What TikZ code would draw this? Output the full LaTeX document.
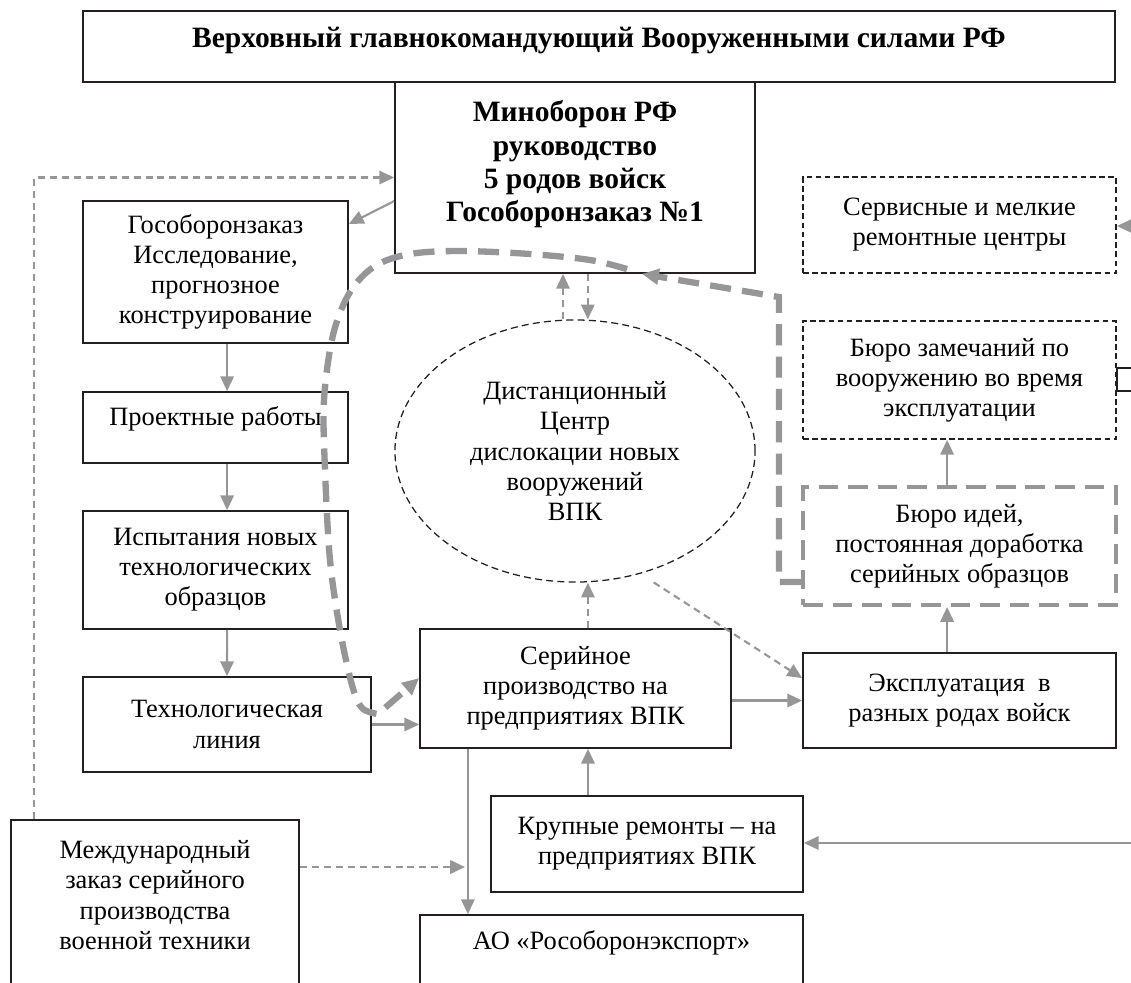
\documentclass[tikz,border=0pt]{standalone}
\usepackage{fontspec}
\setmainfont{Liberation Serif}
\usetikzlibrary{arrows.meta,shapes.geometric}
\definecolor{arrgray}{RGB}{150,150,152}
\definecolor{boxblack}{RGB}{35,31,32}

\begin{document}
\begin{tikzpicture}[x=0.025cm,y=-0.025cm,
  box/.style={draw=boxblack,line width=1.2pt,align=center,inner sep=2pt,font=\fontsize{18.8}{21.4}\selectfont},
  bigbox/.style={box,font=\fontsize{21}{23.5}\selectfont\bfseries},
  dbox/.style={box,line width=1.2pt,dash pattern=on 4pt off 2.5pt},
  gbox/.style={box,draw=arrgray,line width=2.8pt,dash pattern=on 14pt off 7pt},
  arr/.style={draw=arrgray,line width=1.5pt,-{Triangle[length=10.5pt,width=9.5pt]}},
  darr/.style={arr,dash pattern=on 5pt off 3.5pt},
  bigdash/.style={draw=arrgray,line width=4.5pt,dash pattern=on 15pt off 8pt,-{Triangle[length=12pt,width=11pt]}}]
% --- page frame
\clip (0,0) rectangle (1131,982);

% ---- top boxes
\node[bigbox,minimum width=25.8cm,minimum height=1.775cm,text height=14pt,text depth=13pt] (vgk) at (599,46.5)
  {Верховный главнокомандующий Вооруженными силами РФ};
\node[bigbox,minimum width=9cm,minimum height=4.775cm] (mino) at (575,177.5)
  {Миноборон РФ\\руководство\\5 родов войск\\Гособоронзаказ №1\\ \mbox{}};

% ---- left column
\node[box,minimum width=6.625cm,minimum height=3.55cm] (gos) at (215.5,272)
  {Гособоронзаказ\\Исследование,\\прогнозное\\конструирование};
\node[box,minimum width=6.625cm,minimum height=1.775cm,text height=12pt,text depth=15pt] (proj) at (215.5,427.5)
  {Проектные работы};
\node[box,minimum width=6.625cm,minimum height=2.95cm] (isp) at (215.5,570)
  {Испытания новых\\технологических\\образцов};
\node[box,minimum width=7.2cm,minimum height=2.375cm] (tech) at (227,724.5)
  {Технологическая\\линия};

% ---- middle
\node[ellipse,draw=boxblack,line width=0.9pt,dash pattern=on 5pt off 3pt,align=center,
  minimum width=9cm,minimum height=6.55cm,font=\fontsize{18.8}{21.4}\selectfont] (dvc) at (575,451)
  {Дистанционный\\Центр\\дислокации новых\\вооружений\\ВПК};
\node[box,minimum width=7.775cm,minimum height=2.975cm] (ser) at (575.5,688.5)
  {Серийное\\производство на\\предприятиях ВПК};
\node[box,minimum width=7.8cm,minimum height=2.4cm] (krup) at (647,844)
  {Крупные ремонты – на\\предприятиях ВПК};
\node[box,minimum width=9.575cm,minimum height=2.125cm,text height=12pt,text depth=22.7pt] (ao) at (611.5,957.5)
  {АО «Рособоронэкспорт»};
\node[box,minimum width=7.2cm,minimum height=4.5cm] (mezh) at (155,910)
  {Международный\\заказ серийного\\производства\\военной техники\\ \mbox{}};

% ---- right column
\node[dbox,minimum width=7.825cm,minimum height=2.4cm] (serv) at (959.5,225)
  {Сервисные и мелкие\\ремонтные центры};
\node[dbox,minimum width=7.825cm,minimum height=2.95cm] (zam) at (959.5,380)
  {Бюро замечаний по\\вооружению во время\\эксплуатации};
\node[gbox,minimum width=7.825cm,minimum height=2.95cm] (idei) at (959.5,546)
  {Бюро идей,\\постоянная доработка\\серийных образцов};
\node[box,minimum width=7.825cm,minimum height=2.375cm] (expl) at (959.5,700.5)
  {Эксплуатация \ в\\разных родах войск};
% ---- box cut by the page edge
\draw[boxblack,line width=1.2pt] (1117,368) rectangle (1170,391);

% ---- free ends
\coordinate (rserv) at (1140,226);
\coordinate (rkrup) at (1140,843);
\coordinate (aojoin) at (465,867);

% ---- solid arrows
\draw[arr] ([yshift=-0.59cm]mino.west) -- ([yshift=1.2cm]gos.east);
\draw[arr] ([xshift=0.29cm]gos.south) -- ([xshift=0.29cm]proj.north);
\draw[arr] ([xshift=0.29cm]proj.south) -- ([xshift=0.29cm]isp.north);
\draw[arr] ([xshift=0.29cm]isp.south) -- (tech.north);
\draw[arr] (tech.east) -- (tech.east -| ser.west);
\draw[arr] (ser.east |- expl.west) -- (expl.west);
\draw[arr] ([xshift=-0.31cm]expl.north) -- ([xshift=-0.31cm]idei.south);
\draw[arr] ([xshift=-0.31cm]idei.north) -- ([xshift=-0.31cm]zam.south);
\draw[arr] ([xshift=-1.475cm]krup.north) -- ([xshift=-1.475cm]krup.north |- ser.south);
\draw[arr] ([xshift=-2.69cm]ser.south) -- ([xshift=-2.69cm]ser.south |- ao.north);
\draw[arr] (rserv) -- (serv.east |- rserv);
\draw[arr] (rkrup) -- (krup.east |- rkrup);

% ---- dashed arrows
\draw[darr] ([xshift=0.6cm]mezh.north west) |- (mino.west);
\draw[darr] (mezh.east |- aojoin) -- (aojoin);
\draw[darr] ([xshift=-0.3cm]dvc.north) -- ([xshift=-0.3cm]dvc.north |- mino.south);
\draw[darr] ([xshift=0.32cm]dvc.north |- mino.south) -- ([xshift=0.32cm]dvc.north);
\draw[darr] ([xshift=0.31cm]ser.north) -- ([xshift=0.31cm]ser.north |- dvc.south);
\draw[darr,shorten <=0.4cm] (dvc.-62) -- ([yshift=0.56cm]expl.west);

% ---- thick dashed loop
\draw[bigdash] ([yshift=-0.9cm]idei.west) -- ++(-22,0) -- ++(0,-285) -- ([xshift=1.675cm]mino.south);
\draw[bigdash] plot[smooth,tension=0.55] coordinates {([xshift=1.3cm,yshift=0.12cm]mino.south)
  (590,260) (530,254) (460,251) (410,254) (375,266) (350,292) (333,335) (324,400) (325,470)
  (330,560) (340,630) (352,685) (362,708) (378,714)} -- ([yshift=0.26cm]ser.west);
\end{tikzpicture}
\end{document}
